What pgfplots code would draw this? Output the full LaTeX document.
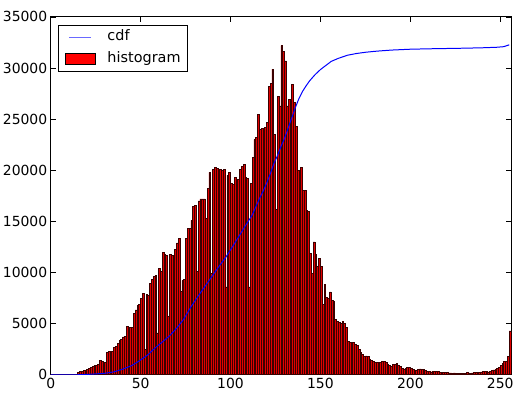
\documentclass[border=0pt]{standalone}
\usepackage{fontspec}
\setmainfont{DejaVu Sans}
\usepackage{pgfplots}
\usepackage{pgfplotstable}
\pgfplotsset{compat=1.18}

% Grey-level histogram: 256 bins of width 1, counts per bin
\pgfplotstableread[row sep=\\]{
bin count\\
0 0\\ 1 0\\ 2 0\\ 3 0\\ 4 0\\ 5 0\\ 6 0\\ 7 0\\ 8 0\\ 9 0\\
10 0\\ 11 0\\ 12 0\\ 13 0\\ 14 0\\ 15 250\\ 16 300\\ 17 350\\ 18 400\\ 19 450\\
20 500\\ 21 600\\ 22 700\\ 23 800\\ 24 900\\ 25 950\\ 26 1000\\ 27 1400\\ 28 1350\\ 29 1050\\
30 1200\\ 31 2150\\ 32 2300\\ 33 1800\\ 34 2300\\ 35 2700\\ 36 2750\\ 37 3100\\ 38 3400\\ 39 3500\\
40 3700\\ 41 3750\\ 42 4700\\ 43 1650\\ 44 4650\\ 45 4600\\ 46 6000\\ 47 6350\\ 48 6800\\ 49 6900\\
50 7500\\ 51 7950\\ 52 2500\\ 53 7900\\ 54 7800\\ 55 8900\\ 56 9300\\ 57 9600\\ 58 9700\\ 59 4100\\
60 10400\\ 61 10100\\ 62 12000\\ 63 11800\\ 64 11700\\ 65 5700\\ 66 11800\\ 67 11700\\ 68 9800\\ 69 12300\\
70 12900\\ 71 13300\\ 72 8150\\ 73 9200\\ 74 9300\\ 75 13300\\ 76 14300\\ 77 14300\\ 78 15100\\ 79 16500\\
80 16600\\ 81 10100\\ 82 17000\\ 83 17200\\ 84 17200\\ 85 17200\\ 86 15300\\ 87 18200\\ 88 19800\\ 89 9900\\
90 20100\\ 91 20300\\ 92 20200\\ 93 17700\\ 94 20100\\ 95 20000\\ 96 20100\\ 97 8600\\ 98 19500\\ 99 19800\\
100 18700\\ 101 18600\\ 102 19300\\ 103 8100\\ 104 19100\\ 105 20100\\ 106 20400\\ 107 20600\\ 108 19300\\ 109 19200\\
110 8600\\ 111 18700\\ 112 21300\\ 113 23000\\ 114 23200\\ 115 25500\\ 116 24000\\ 117 24100\\ 118 11500\\ 119 24200\\
120 24700\\ 121 28200\\ 122 28500\\ 123 29900\\ 124 23500\\ 125 16200\\ 126 27200\\ 127 26300\\ 128 32200\\ 129 31600\\
130 30700\\ 131 26300\\ 132 26900\\ 133 20000\\ 134 28400\\ 135 26600\\ 136 24300\\ 137 20000\\ 138 15300\\ 139 20300\\
140 18000\\ 141 18000\\ 142 16100\\ 143 16000\\ 144 11900\\ 145 9900\\ 146 13000\\ 147 11800\\ 148 10600\\ 149 11400\\
150 10600\\ 151 6900\\ 152 8800\\ 153 7600\\ 154 7500\\ 155 8100\\ 156 7300\\ 157 7200\\ 158 5400\\ 159 5200\\
160 5100\\ 161 5000\\ 162 5200\\ 163 5000\\ 164 4600\\ 165 3300\\ 166 3200\\ 167 3100\\ 168 3200\\ 169 3000\\
170 2900\\ 171 2500\\ 172 2200\\ 173 2000\\ 174 1800\\ 175 1850\\ 176 1800\\ 177 1500\\ 178 1400\\ 179 1300\\
180 1200\\ 181 1200\\ 182 1150\\ 183 1250\\ 184 1350\\ 185 1300\\ 186 1200\\ 187 1050\\ 188 900\\ 189 850\\
190 1000\\ 191 1050\\ 192 1100\\ 193 950\\ 194 850\\ 195 650\\ 196 550\\ 197 650\\ 198 700\\ 199 700\\
200 650\\ 201 500\\ 202 420\\ 203 450\\ 204 550\\ 205 580\\ 206 560\\ 207 500\\ 208 450\\ 209 350\\
210 300\\ 211 290\\ 212 330\\ 213 360\\ 214 350\\ 215 300\\ 216 250\\ 217 220\\ 218 200\\ 219 210\\
220 200\\ 221 190\\ 222 180\\ 223 170\\ 224 180\\ 225 160\\ 226 150\\ 227 170\\ 228 160\\ 229 150\\
230 170\\ 231 200\\ 232 180\\ 233 160\\ 234 180\\ 235 200\\ 236 220\\ 237 200\\ 238 220\\ 239 280\\
240 300\\ 241 320\\ 242 300\\ 243 280\\ 244 350\\ 245 420\\ 246 480\\ 247 520\\ 248 600\\ 249 700\\
250 900\\ 251 1100\\ 252 1350\\ 253 1300\\ 254 1800\\ 255 4300\\
}\histtable

% Cumulative distribution, scaled to the histogram maximum
\pgfplotstableread{
bin cdf
0 0
14 0
20 40
25 90
30 150
35 280
40 550
45 900
49 1330
54 1950
58 2620
62 3200
66 3800
70 4550
74 5450
78 6650
82 7700
86 8700
90 9700
94 10700
97 11400
101 12500
104 13350
108 14500
112 15600
116 17200
118 17900
120 18700
122 19600
124 20600
126 21400
128 22300
130 23100
132 24100
134 25100
136 26100
138 27000
140 27700
142 28250
144 28750
147 29350
150 29850
153 30250
156 30650
160 30950
165 31250
170 31420
175 31540
180 31630
185 31700
190 31760
200 31840
210 31880
220 31910
230 31940
240 31980
248 32030
252 32090
255 32270
}\cdftable

\definecolor{barfill}{RGB}{225,0,0}
\definecolor{baredge}{RGB}{60,0,0}
\definecolor{cdfkey}{RGB}{105,105,255}

\begin{document}
\begin{tikzpicture}
\useasboundingbox (-51pt,-20pt) rectangle (467pt,377pt);
\begin{axis}[
  at={(0pt,0pt)}, anchor=south west,
  width=463pt, height=360pt, scale only axis,
  xmin=0, xmax=256, ymin=0, ymax=35000,
  xtick={0,50,...,250}, ytick={0,5000,...,35000},
  scaled y ticks=false,
  /pgf/number format/1000 sep={},
  /pgf/number format/assume math mode=true,
  ticklabel style={font=\fontsize{14}{16}\selectfont, text=black},
  tick align=inside, major tick length=5pt,
  tick style={black, line width=0.8pt},
  axis line style={line width=0.9pt},
  reverse legend,
  legend cell align=left,
  legend style={at={(axis description cs:0.0151,0.978)}, anchor=north west,
    draw=black, line width=0.8pt, fill=white,
    inner xsep=7pt, inner ysep=5pt, row sep=8pt, column sep=12pt,
    font=\fontsize{14.5}{17}\selectfont,
    nodes={inner sep=0pt, text height=10.5pt, text depth=3.5pt}},
]
\addplot[ybar, bar width=1, bar shift=0.5, fill=barfill, draw=baredge, line width=0.7pt,
  legend image code/.code={\draw[fill=red, draw=black, line width=0.7pt] (0pt,-5.5pt) rectangle (30pt,5.5pt);}]
  table[x=bin, y=count]{\histtable};
\addlegendentry{histogram}
\addplot[blue, line width=1pt, mark=none,
  legend image code/.code={\path[draw=none, fill=none] (0pt,0pt) -- (30pt,0pt); \draw[draw=cdfkey, line width=1.2pt] (4pt,0pt) -- (26pt,0pt);}]
  table[x=bin, y=cdf]{\cdftable};
\addlegendentry{cdf}
\end{axis}
\end{tikzpicture}
\end{document}
